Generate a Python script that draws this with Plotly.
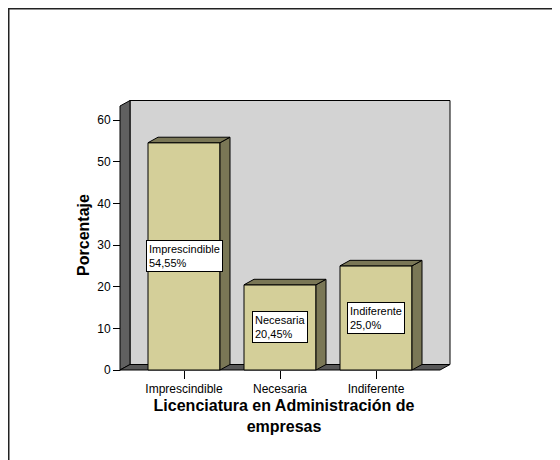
import plotly.graph_objects as go

categories = ["Imprescindible", "Necesaria", "Indiferente"]
values = [54.55, 20.45, 25.0]
value_labels = ["54,55%", "20,45%", "25,0%"]
y_ticks = [0, 10, 20, 30, 40, 50, 60]

W, H = 560, 460
OFF = 8  # page body margin in the browser
# pixel geometry (in screenshot pixels, converted to figure pixels with OFF)
PL, PR, PT, PB = 116 - OFF, 452 - OFF, 98 - OFF, 372 - OFF
X_PER_CAT = 96.0
X0_PX = 184.0 - OFF          # pixel of category 0
Y_PER_UNIT = 250.0 / 60.0
Y0_PX = 370.0 - OFF          # pixel of value 0
DX_PX, DY_PX = 10.0, 5.5
BAR_W = 0.75

xr = [(PL - X0_PX) / X_PER_CAT, (PR - X0_PX) / X_PER_CAT]
yr = [(Y0_PX - PB) / Y_PER_UNIT, (Y0_PX - PT) / Y_PER_UNIT]
ddx = DX_PX / X_PER_CAT
ddy = DY_PX / Y_PER_UNIT
xf0 = (120 - OFF - X0_PX) / X_PER_CAT       # front-left of the chart box
xf1 = (440 - OFF - X0_PX) / X_PER_CAT       # front-right of the chart box
ytop = (Y0_PX - (106 - OFF)) / Y_PER_UNIT   # front top of the left wall

BAR_FRONT = "rgb(212,207,153)"
BAR_SIDE = "rgb(122,119,86)"
WALL_BACK = "rgb(211,211,211)"
WALL_LEFT = "rgb(96,96,96)"
FLOOR = "rgb(88,88,88)"
FONT = "Arial, Liberation Sans, sans-serif"


def poly(pts):
    return "M " + " L ".join(f"{x},{y}" for x, y in pts) + " Z"


shapes = []
# back wall
shapes.append(dict(type="path", xref="x", yref="y", layer="below",
                   path=poly([(xf0 + ddx, ddy), (xf1 + ddx, ddy),
                              (xf1 + ddx, ytop + ddy), (xf0 + ddx, ytop + ddy)]),
                   fillcolor=WALL_BACK, line=dict(color="black", width=1)))
# left wall
shapes.append(dict(type="path", xref="x", yref="y", layer="below",
                   path=poly([(xf0, 0), (xf0, ytop), (xf0 + ddx, ytop + ddy), (xf0 + ddx, ddy)]),
                   fillcolor=WALL_LEFT, line=dict(color="black", width=1)))
# floor
shapes.append(dict(type="path", xref="x", yref="y", layer="below",
                   path=poly([(xf0, 0), (xf1, 0), (xf1 + ddx, ddy), (xf0 + ddx, ddy)]),
                   fillcolor=FLOOR, line=dict(color="black", width=1)))

# bar side and top faces
for i, v in enumerate(values):
    xl, xrr = i - BAR_W / 2, i + BAR_W / 2
    shapes.append(dict(type="path", xref="x", yref="y", layer="above",
                       path=poly([(xrr, 0), (xrr, v), (xrr + ddx, v + ddy), (xrr + ddx, ddy)]),
                       fillcolor=BAR_SIDE, line=dict(color="black", width=1)))
    shapes.append(dict(type="path", xref="x", yref="y", layer="above",
                       path=poly([(xl, v), (xrr, v), (xrr + ddx, v + ddy), (xl + ddx, v + ddy)]),
                       fillcolor=BAR_SIDE, line=dict(color="black", width=1)))

# outer frame (only top and left edges are visible in the window)
pw, ph = PR - PL, PB - PT
shapes.append(dict(type="rect", xref="paper", yref="paper", layer="above",
                   x0=(0.5 - PL) / pw, x1=(700 - PL) / pw,
                   y0=1 - (600 - PT) / ph, y1=1 - (0.5 - PT) / ph,
                   fillcolor="rgba(0,0,0,0)", line=dict(color="#222", width=2)))

annotations = []
for i, (c, v, lab) in enumerate(zip(categories, values, value_labels)):
    annotations.append(dict(x=i, y=v / 2, xref="x", yref="y", text=f"{c}<br>{lab}",
                            showarrow=False, align="left", bgcolor="white",
                            bordercolor="black", borderwidth=1, borderpad=2,
                            font=dict(family=FONT, size=11, color="black")))

fig = go.Figure(go.Bar(x=list(range(len(categories))), y=values, width=BAR_W,
                       marker=dict(color=BAR_FRONT, line=dict(color="black", width=1)),
                       hoverinfo="skip"))

fig.update_layout(
    width=W, height=H,
    margin=dict(l=PL, r=W - PR, t=PT, b=H - PB, autoexpand=False),
    paper_bgcolor="white", plot_bgcolor="rgba(0,0,0,0)",
    showlegend=False,
    shapes=shapes, annotations=annotations,
    font=dict(family=FONT, size=12, color="black"),
    xaxis=dict(range=xr, tickmode="array", tickvals=list(range(len(categories))),
               ticktext=categories, ticks="outside", ticklen=8, tickcolor="black",
               showgrid=False, zeroline=False, showline=False,
               anchor="free", position=(PB - Y0_PX) / ph,
               tickfont=dict(size=12, family=FONT),
               title=dict(text="Licenciatura en Administración de<br>empresas",
                          font=dict(size=16, family=FONT, weight="bold"), standoff=4)),
    yaxis=dict(range=yr, tickmode="array", tickvals=y_ticks,
               ticks="outside", ticklen=7, tickcolor="black",
               showgrid=False, zeroline=False, showline=False,
               anchor="free", position=(120 - OFF - PL) / pw,
               tickfont=dict(size=12, family=FONT),
               title=dict(text="Porcentaje",
                          font=dict(size=16, family=FONT, weight="bold"), standoff=2)),
)

fig.write_html("out.html")
